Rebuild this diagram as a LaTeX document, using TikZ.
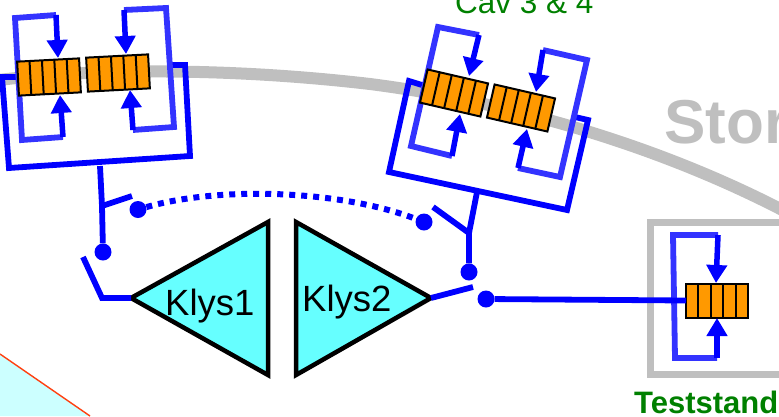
\documentclass[tikz,border=0pt]{standalone}
\usepackage{fontspec}
\setmainfont{Liberation Sans}
\usetikzlibrary{arrows.meta,calc}
\definecolor{ringgray}{HTML}{BFBFBF}
\definecolor{darkb}{HTML}{0000FF}
\definecolor{lightb}{HTML}{3333FF}
\definecolor{cavor}{HTML}{FF9900}
\definecolor{klys}{HTML}{66FFFF}
\definecolor{labgreen}{HTML}{008000}
\definecolor{pale}{HTML}{CCFFFF}
\definecolor{edgered}{HTML}{FF4010}
\tikzset{
  x=1pt,y=-1pt,
  ring/.style={draw=ringgray,line width=12pt},
  standbox/.style={draw=ringgray,line width=7pt},
  feed/.style={draw=darkb,line width=5.8pt,line join=miter},
  loopline/.style={draw=lightb,line width=5.8pt,line join=miter},
  inarrow/.style={draw=darkb,line width=5.5pt,-{Triangle[length=18pt,width=20pt,fill=darkb]}},
  cavity/.style={draw=black,line width=2pt,fill=cavor,minimum width=62pt,minimum height=34pt,inner sep=0pt,outer sep=0pt},
  klystron/.style={draw=black,line width=4.5pt,fill=klys,line join=miter},
  dotnode/.style={circle,fill=darkb,inner sep=0pt,minimum size=17pt},
  labeltext/.style={inner sep=0pt,anchor=base west,text=black,font=\fontsize{36.5}{40}\selectfont},
}
\newcommand{\cavdiv}[1]{\foreach \f in {0.2,0.4,0.6,0.8}{\draw[black,line width=2pt] ($(#1.south west)!\f!(#1.south east)$) -- ($(#1.north west)!\f!(#1.north east)$);}}
\begin{document}
\begin{tikzpicture}
\useasboundingbox (0,0) rectangle (779,416);
\clip (0,0) rectangle (779,416);
% background wedge
\fill[pale] (0,354) -- (90,416) -- (0,416) -- cycle;
\draw[edgered,line width=1.4pt] (0,354) -- (90,416);
% ring
\draw[ring] (-10,81) .. controls (110,66) and (250,70) .. (370,84) .. controls (480,98) and (640,135) .. (790,214);
\node[inner sep=0pt,anchor=base west,text=ringgray,font=\bfseries\fontsize{62}{66}\selectfont] (ringlab) at (664,143) {Stor};
\draw[standbox] (790,222) -- (650,222) -- (650,374) -- (790,374);
% cavity boxes
\coordinate (bl1) at (16,77);
\coordinate (bl2) at (2,77);
\coordinate (bl3) at (9,168);
\coordinate (bl4) at (190,156);
\coordinate (bl5) at (185,65);
\coordinate (bl6) at (172,65);
\draw[feed] (bl1) -- (bl2) -- (bl3) -- (bl4) -- (bl5) -- (bl6);
\coordinate (br1) at (422,85);
\coordinate (br2) at (409,81);
\coordinate (br3) at (389,172);
\coordinate (br4) at (567,210);
\coordinate (br5) at (588,120);
\coordinate (br6) at (575,117);
\draw[feed] (br1) -- (br2) -- (br3) -- (br4) -- (br5) -- (br6);
% loops
\coordinate (a1) at (56,15);
\coordinate (a2) at (63,137);
\draw[loopline] (a2) -- (22,140) -- (15,18) -- (a1);
\coordinate (a3) at (124,10);
\coordinate (a4) at (133,130);
\draw[loopline] (a3) -- (166,8) -- (174,127) -- (a4);
\coordinate (a5) at (479,35);
\coordinate (a6) at (452,156);
\draw[loopline] (a5) -- (438,27) -- (411,146) -- (a6);
\coordinate (a7) at (543,50);
\coordinate (a8) at (518,168);
\draw[loopline] (a7) -- (587,60) -- (560,177) -- (a8);
\coordinate (a9) at (718,235);
\coordinate (a10) at (717,358);
\draw[loopline] (a9) -- (673,235) -- (675,358) -- (a10);
% cavities
\node[cavity,rotate=3] (c1) at (49,77) {};
\node[cavity,rotate=3] (c2) at (118,73) {};
\node[cavity,rotate=-13] (c3) at (454,93) {};
\node[cavity,rotate=-13] (c4) at (521,108) {};
\node[cavity] (c5) at (717,300.5) {};
\cavdiv{c1}\cavdiv{c2}\cavdiv{c3}\cavdiv{c4}\cavdiv{c5}
% arrows
\coordinate (t1) at (58,58);
\coordinate (t2) at (60,95);
\coordinate (t3) at (126,54);
\coordinate (t4) at (130,90);
\coordinate (t5) at (469,76);
\coordinate (t6) at (460,114);
\coordinate (t7) at (536,92);
\coordinate (t8) at (527,129);
\coordinate (t9) at (716,283);
\coordinate (t10) at (717,318);
\foreach \s/\e in {a1/t1,a2/t2,a3/t3,a4/t4,a5/t5,a6/t6,a7/t7,a8/t8,a9/t9,a10/t10}{
  \draw[inarrow] (\s) -- (\e);
}
% klystrons
\coordinate (k1a) at (131,298);
\coordinate (k2a) at (431,298);
\draw[klystron] (k1a) -- (268,222) -- (268,375) -- cycle;
\draw[klystron] (k2a) -- (296,222) -- (296,375) -- cycle;
\node[labeltext] (k1) at (165,315) {Klys1};
\node[labeltext] (k2) at (302,311) {Klys2};
% dots
\node[dotnode] (d1) at (103,252) {};
\node[dotnode] (d2) at (138,209.5) {};
\node[dotnode] (d3) at (424,222) {};
\node[dotnode] (d4) at (469,272) {};
\node[dotnode] (d5) at (486,299) {};
% switches and feeds
\coordinate (sl0) at (100,166);
\coordinate (sl1) at (102,206);
\coordinate (sl2) at (132,196);
\coordinate (sl3) at (83,257);
\coordinate (sl4) at (102,298);
\draw[feed] (sl0) -- (sl1) -- (d1);
\draw[feed] (sl1) -- (sl2);
\draw[feed] (sl3) -- (sl4) -- (k1a);
\coordinate (sr0) at (477,192);
\coordinate (sr1) at (469,233);
\coordinate (sr2) at (433,207);
\coordinate (sr3) at (473,287);
\draw[feed] (sr0) -- (sr1) -- (d4);
\draw[feed] (sr1) -- (sr2);
\draw[feed] (k2a) -- (sr3);
\draw[feed] (d5) -- (c5.west);
\draw[draw=darkb,line width=6pt,dash pattern=on 6pt off 6pt] (d2) .. controls (220,186) and (340,190) .. (d3);
% labels
\node[inner sep=0pt,anchor=base west,text=labgreen,font=\fontsize{31.5}{34}\selectfont] (cav) at (455,13) {Cav 3 \& 4};
\node[inner sep=0pt,anchor=base west,text=labgreen,font=\bfseries\fontsize{31}{34}\selectfont] (ts) at (634,413) {Teststand};
\end{tikzpicture}
\end{document}
